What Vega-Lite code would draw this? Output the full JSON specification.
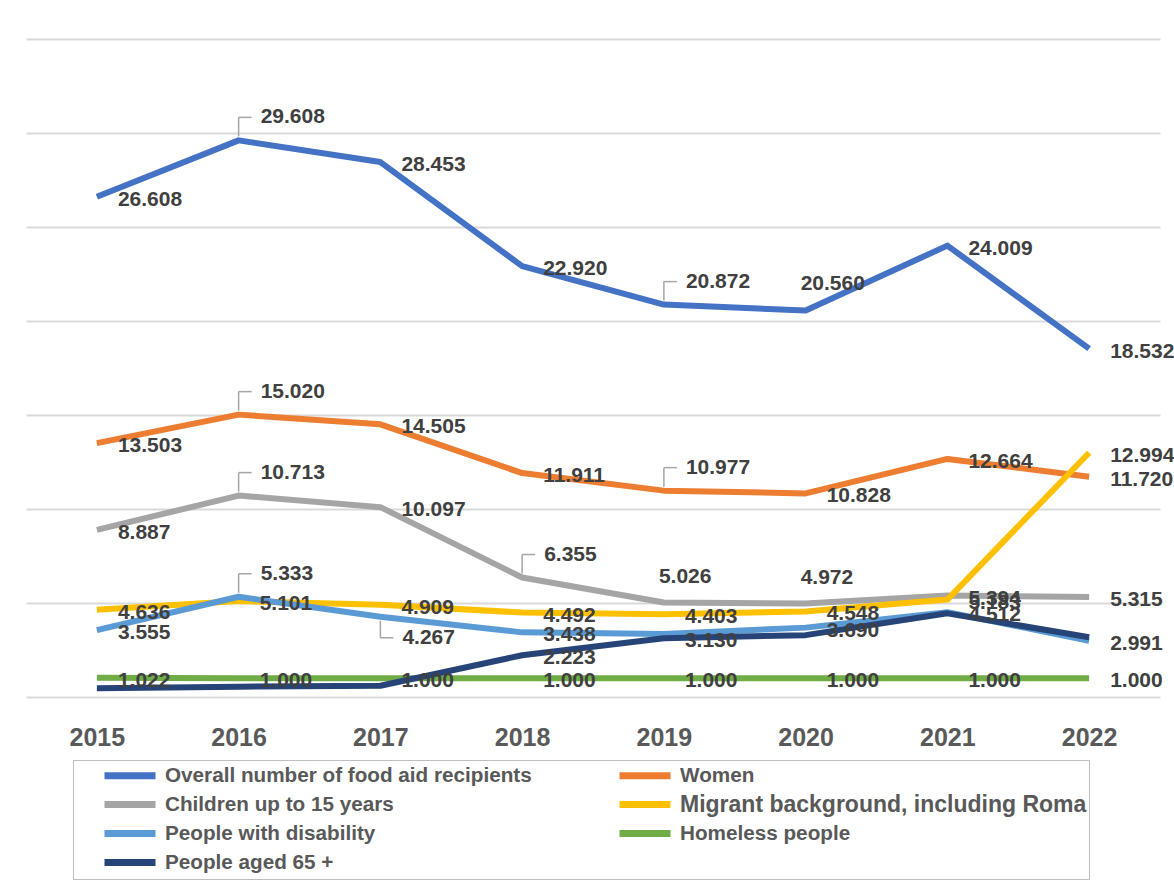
{
  "$schema": "https://vega.github.io/schema/vega-lite/v6.json",
  "width": 1134,
  "height": 658,
  "autosize": "none",
  "padding": {"left": 26, "top": 39, "right": 14, "bottom": 185},
  "background": "white",
  "config": {
    "view": {"stroke": null},
    "font": "Liberation Sans",
    "text": {"font": "Liberation Sans"}
  },
  "data": {
    "values": [
      {"year": "2015", "series": "Overall number of food aid recipients", "value": 26.608, "pos": "r"},
      {"year": "2016", "series": "Overall number of food aid recipients", "value": 29.608, "pos": "ar"},
      {"year": "2017", "series": "Overall number of food aid recipients", "value": 28.453, "pos": "r"},
      {"year": "2018", "series": "Overall number of food aid recipients", "value": 22.920, "pos": "r"},
      {"year": "2019", "series": "Overall number of food aid recipients", "value": 20.872, "pos": "ar"},
      {"year": "2020", "series": "Overall number of food aid recipients", "value": 20.560, "pos": "a"},
      {"year": "2021", "series": "Overall number of food aid recipients", "value": 24.009, "pos": "r"},
      {"year": "2022", "series": "Overall number of food aid recipients", "value": 18.532, "pos": "r"},
      {"year": "2015", "series": "Women", "value": 13.503, "pos": "r"},
      {"year": "2016", "series": "Women", "value": 15.020, "pos": "ar"},
      {"year": "2017", "series": "Women", "value": 14.505, "pos": "r"},
      {"year": "2018", "series": "Women", "value": 11.911, "pos": "r"},
      {"year": "2019", "series": "Women", "value": 10.977, "pos": "ar"},
      {"year": "2020", "series": "Women", "value": 10.828, "pos": "r"},
      {"year": "2021", "series": "Women", "value": 12.664, "pos": "r"},
      {"year": "2022", "series": "Women", "value": 11.720, "pos": "r"},
      {"year": "2015", "series": "Children up to 15 years", "value": 8.887, "pos": "r"},
      {"year": "2016", "series": "Children up to 15 years", "value": 10.713, "pos": "ar"},
      {"year": "2017", "series": "Children up to 15 years", "value": 10.097, "pos": "r"},
      {"year": "2018", "series": "Children up to 15 years", "value": 6.355, "pos": "ar"},
      {"year": "2019", "series": "Children up to 15 years", "value": 5.026, "pos": "a"},
      {"year": "2020", "series": "Children up to 15 years", "value": 4.972, "pos": "a"},
      {"year": "2021", "series": "Children up to 15 years", "value": 5.394, "pos": "r"},
      {"year": "2022", "series": "Children up to 15 years", "value": 5.315, "pos": "r"},
      {"year": "2015", "series": "Migrant background, including Roma", "value": 4.636, "pos": "r"},
      {"year": "2016", "series": "Migrant background, including Roma", "value": 5.101, "pos": "r"},
      {"year": "2017", "series": "Migrant background, including Roma", "value": 4.909, "pos": "r"},
      {"year": "2018", "series": "Migrant background, including Roma", "value": 4.492, "pos": "r"},
      {"year": "2019", "series": "Migrant background, including Roma", "value": 4.403, "pos": "r"},
      {"year": "2020", "series": "Migrant background, including Roma", "value": 4.548, "pos": "r"},
      {"year": "2021", "series": "Migrant background, including Roma", "value": 5.183, "pos": "r"},
      {"year": "2022", "series": "Migrant background, including Roma", "value": 12.994, "pos": "r"},
      {"year": "2015", "series": "People with disability", "value": 3.555, "pos": "r"},
      {"year": "2016", "series": "People with disability", "value": 5.333, "pos": "ar"},
      {"year": "2017", "series": "People with disability", "value": 4.267, "pos": "br"},
      {"year": "2018", "series": "People with disability", "value": 3.438, "pos": "r"},
      {"year": "2019", "series": "People with disability", "value": 3.35, "pos": "n"},
      {"year": "2020", "series": "People with disability", "value": 3.690, "pos": "r"},
      {"year": "2021", "series": "People with disability", "value": 4.512, "pos": "r"},
      {"year": "2022", "series": "People with disability", "value": 2.991, "pos": "r"},
      {"year": "2015", "series": "Homeless people", "value": 1.022, "pos": "r"},
      {"year": "2016", "series": "Homeless people", "value": 1.000, "pos": "r"},
      {"year": "2017", "series": "Homeless people", "value": 1.000, "pos": "r"},
      {"year": "2018", "series": "Homeless people", "value": 1.000, "pos": "r"},
      {"year": "2019", "series": "Homeless people", "value": 1.000, "pos": "r"},
      {"year": "2020", "series": "Homeless people", "value": 1.000, "pos": "r"},
      {"year": "2021", "series": "Homeless people", "value": 1.000, "pos": "r"},
      {"year": "2022", "series": "Homeless people", "value": 1.000, "pos": "r"},
      {"year": "2015", "series": "People aged 65 +", "value": 0.46, "pos": "n"},
      {"year": "2016", "series": "People aged 65 +", "value": 0.55, "pos": "n"},
      {"year": "2017", "series": "People aged 65 +", "value": 0.60, "pos": "n"},
      {"year": "2018", "series": "People aged 65 +", "value": 2.223, "pos": "r"},
      {"year": "2019", "series": "People aged 65 +", "value": 3.130, "pos": "r"},
      {"year": "2020", "series": "People aged 65 +", "value": 3.29, "pos": "n"},
      {"year": "2021", "series": "People aged 65 +", "value": 4.45, "pos": "n"},
      {"year": "2022", "series": "People aged 65 +", "value": 3.18, "pos": "n"}
    ]
  },
  "encoding": {
    "x": {
      "field": "year",
      "type": "ordinal",
      "scale": {"type": "point", "padding": 0.5},
      "axis": {
        "title": null,
        "labelAngle": 0,
        "labelFontSize": 25,
        "labelFontWeight": "bold",
        "labelColor": "#595959",
        "labelFont": "Liberation Sans",
        "ticks": false,
        "tickSize": 0,
        "labelPadding": 28,
        "domain": true,
        "domainColor": "#d9d9d9",
        "domainWidth": 2,
        "grid": false
      }
    },
    "y": {
      "field": "value",
      "type": "quantitative",
      "scale": {"domain": [0, 35], "nice": false, "zero": true},
      "axis": {
        "title": null,
        "labels": false,
        "ticks": false,
        "domain": false,
        "values": [5, 10, 15, 20, 25, 30, 35],
        "gridColor": "#d9d9d9",
        "gridWidth": 2
      }
    }
  },
  "layer": [
    {
      "mark": {"type": "line", "strokeWidth": 6, "strokeJoin": "round", "strokeCap": "butt"},
      "encoding": {
        "color": {
          "field": "series",
          "type": "nominal",
          "sort": null,
          "scale": {
            "domain": [
              "Overall number of food aid recipients",
              "Women",
              "Children up to 15 years",
              "Migrant background, including Roma",
              "People with disability",
              "Homeless people",
              "People aged 65 +"
            ],
            "range": ["#4472C4", "#ED7D31", "#A5A5A5", "#FFC000", "#5B9BD5", "#70AD47", "#264478"]
          },
          "legend": {
            "title": null,
            "orient": "none",
            "legendX": 47,
            "legendY": 721,
            "columns": 2,
            "direction": "horizontal",
            "symbolType": "M1.6,0H6.7",
            "symbolSize": 400,
            "symbolStrokeWidth": 7,
            "labelFontSize": 20.7,
            "labelFont": "Liberation Sans",
            "labelFontWeight": "bold",
            "labelColor": "#595959",
            "labelOffset": 63,
            "labelLimit": 800,
            "labelExpr": "datum.label === 'Migrant background, including Roma' ? datum.label + '\u00a0\u00a0\u00a0\u00a0' : datum.label",
            "rowPadding": 0,
            "columnPadding": 58,
            "padding": 2,
            "strokeColor": "#bfbfbf",
            "encode": {
              "labels": {
                "update": {
                  "fontSize": {"signal": "datum.value === 'Migrant background, including Roma' ? 23 : 20.7"}
                }
              }
            }
          }
        }
      }
    },
    {
      "transform": [{"filter": "datum.pos === 'ar'"}],
      "mark": {"type": "rule", "color": "#a6a6a6", "strokeWidth": 1.5, "yOffset": -4, "y2Offset": -23},
      "encoding": {"y2": {"field": "value"}}
    },
    {
      "transform": [{"filter": "datum.pos === 'ar'"}],
      "mark": {"type": "rule", "color": "#a6a6a6", "strokeWidth": 1.5, "yOffset": -23, "x2Offset": 13},
      "encoding": {"x2": {"field": "year"}}
    },
    {
      "transform": [{"filter": "datum.pos === 'br'"}],
      "mark": {"type": "rule", "color": "#a6a6a6", "strokeWidth": 1.5, "yOffset": 4, "y2Offset": 21},
      "encoding": {"y2": {"field": "value"}}
    },
    {
      "transform": [{"filter": "datum.pos === 'br'"}],
      "mark": {"type": "rule", "color": "#a6a6a6", "strokeWidth": 1.5, "yOffset": 21, "x2Offset": 13},
      "encoding": {"x2": {"field": "year"}}
    },
    {
      "transform": [{"filter": "datum.pos === 'r'"}],
      "mark": {"type": "text", "align": "left", "baseline": "middle", "dx": 21, "dy": 3, "fontSize": 21, "fontWeight": "bold", "color": "#404040"},
      "encoding": {"text": {"field": "value", "type": "quantitative", "format": ".3f"}}
    },
    {
      "transform": [{"filter": "datum.pos === 'ar'"}],
      "mark": {"type": "text", "align": "left", "baseline": "middle", "dx": 22, "dy": -23, "fontSize": 21, "fontWeight": "bold", "color": "#404040"},
      "encoding": {"text": {"field": "value", "type": "quantitative", "format": ".3f"}}
    },
    {
      "transform": [{"filter": "datum.pos === 'a'"}],
      "mark": {"type": "text", "align": "left", "baseline": "middle", "dx": -5, "dy": -26, "fontSize": 21, "fontWeight": "bold", "color": "#404040"},
      "encoding": {"text": {"field": "value", "type": "quantitative", "format": ".3f"}}
    },
    {
      "transform": [{"filter": "datum.pos === 'br'"}],
      "mark": {"type": "text", "align": "left", "baseline": "middle", "dx": 22, "dy": 21, "fontSize": 21, "fontWeight": "bold", "color": "#404040"},
      "encoding": {"text": {"field": "value", "type": "quantitative", "format": ".3f"}}
    }
  ]
}
